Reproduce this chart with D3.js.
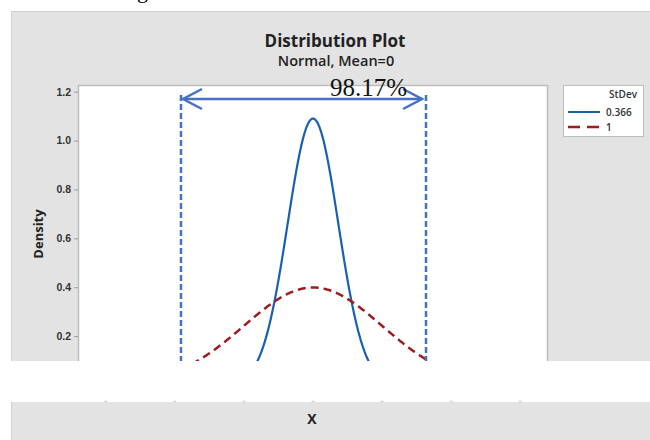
<!DOCTYPE html>
<html>
<head>
<meta charset="utf-8">
<script src="https://cdn.jsdelivr.net/npm/d3@7"></script>
<style>
  body { margin: 0; background: #fff; }
  svg { display: block; font-family: "Open Sans", "Noto Sans", sans-serif; }
</style>
</head>
<body>
<div id="chart"></div>
<script>
// Data
const mean = 0;
const stDevs = [0.366, 1];
const seriesColors = ["#1a5fb4", "#9e1b1f"];
const yTicks = [0.2, 0.4, 0.6, 0.8, 1.0, 1.2];
const xTicks = [-3, -2, -1, 0, 1, 2, 3];
const bounds = [-1.91, 1.635];
const areaLabel = "98.17%";

const width = 650;
const height = 440;
const plot = { left: 78, right: 548, top: 85, cut: 361 };

const svg = d3.select("#chart").append("svg")
    .attr("width", width)
    .attr("height", height);

// scales
const xScale = d3.scaleLinear().domain([-3.4, 3.4]).range([plot.left, plot.right]);
const yScale = d3.scaleLinear().domain([0, 1.2]).range([385, 91.7]);

// cut-off text from above
svg.append("text")
    .attr("x", 137).attr("y", -2)
    .style("font-family", "'Liberation Serif', serif")
    .style("font-size", "22px")
    .text("g");

// gray panels
svg.append("rect")
    .attr("x", 11).attr("y", 11)
    .attr("width", width - 11).attr("height", plot.cut - 11)
    .attr("fill", "#e3e3e3");
svg.append("line")
    .attr("x1", 11).attr("x2", width).attr("y1", 11.5).attr("y2", 11.5)
    .attr("stroke", "#d0d0d0");
svg.append("line")
    .attr("x1", 11.5).attr("x2", 11.5).attr("y1", 11).attr("y2", plot.cut)
    .attr("stroke", "#cfcfcf");

svg.append("rect")
    .attr("x", 11).attr("y", 402)
    .attr("width", width - 11).attr("height", height - 402)
    .attr("fill", "#e3e3e3");
svg.append("line")
    .attr("x1", 11.5).attr("x2", 11.5).attr("y1", 402).attr("y2", height)
    .attr("stroke", "#cfcfcf");

// plot area
svg.append("rect")
    .attr("x", plot.left).attr("y", plot.top)
    .attr("width", plot.right - plot.left).attr("height", plot.cut - plot.top)
    .attr("fill", "#fff");
svg.append("path")
    .attr("d", `M${plot.left + 0.5},${plot.cut}V${plot.top + 0.5}H${plot.right - 0.5}V${plot.cut}`)
    .attr("fill", "none")
    .attr("stroke", "#bdbdbd")
    .attr("stroke-width", 1.5);

svg.append("defs").append("clipPath").attr("id", "clip")
    .append("rect")
    .attr("x", plot.left).attr("y", plot.top - 20)
    .attr("width", plot.right - plot.left).attr("height", plot.cut - plot.top + 20);

// y axis
const yAxis = d3.axisLeft(yScale)
    .tickValues(yTicks)
    .tickFormat(d3.format(".1f"))
    .tickSize(4)
    .tickPadding(3);
const gy = svg.append("g")
    .attr("transform", `translate(${plot.left},0)`)
    .call(yAxis);
gy.select(".domain").remove();
gy.selectAll(".tick line").attr("stroke", "#9a9a9a");
gy.selectAll(".tick text")
    .attr("fill", "#333")
    .style("font-size", "10.5px")
    .style("font-weight", "600");

// x tick remnants on the lower strip
svg.append("g").selectAll("line")
    .data(xTicks)
    .enter()
    .append("line")
    .attr("x1", (d) => xScale(d)).attr("x2", (d) => xScale(d))
    .attr("y1", 400.5).attr("y2", 403)
    .attr("stroke", "#dcdcdc")
    .attr("stroke-width", 3);

// titles
svg.append("text")
    .attr("x", 335).attr("y", 47)
    .attr("text-anchor", "middle")
    .style("font-size", "17px")
    .style("font-weight", "bold")
    .attr("fill", "#222")
    .text("Distribution Plot");
svg.append("text")
    .attr("x", 336).attr("y", 66)
    .attr("text-anchor", "middle")
    .style("font-size", "14.5px")
    .style("font-weight", "600")
    .attr("fill", "#222")
    .text("Normal, Mean=" + mean);

svg.append("text")
    .attr("transform", "translate(43,234) rotate(-90)")
    .attr("text-anchor", "middle")
    .style("font-size", "13px")
    .style("font-weight", "bold")
    .attr("fill", "#222")
    .text("Density");

svg.append("text")
    .attr("x", 312).attr("y", 424)
    .attr("text-anchor", "middle")
    .style("font-size", "14px")
    .style("font-weight", "bold")
    .attr("fill", "#222")
    .text("X");

// density curves
const xs = d3.range(-3.4, 3.4001, 0.01);
const density = (x, sd) => Math.exp(-0.5 * ((x - mean) / sd) ** 2) / (sd * Math.sqrt(2 * Math.PI));
const line = d3.line().x((d) => xScale(d[0])).y((d) => yScale(d[1]));

const curves = svg.append("g").attr("clip-path", "url(#clip)");
stDevs.forEach((sd, i) => {
    curves.append("path")
        .datum(xs.map((x) => [x, density(x, sd)]))
        .attr("d", line)
        .attr("fill", "none")
        .attr("stroke", seriesColors[i])
        .attr("stroke-width", i === 0 ? 2.2 : 2.5)
        .attr("stroke-dasharray", i === 0 ? null : "8,5");
});

// annotation: bounds and arrow
const annColor = "#4472c4";
const ann = svg.append("g").attr("clip-path", "url(#clip)");
bounds.forEach((b) => {
    ann.append("line")
        .attr("x1", xScale(b)).attr("x2", xScale(b))
        .attr("y1", 95).attr("y2", plot.cut)
        .attr("stroke", annColor)
        .attr("stroke-width", 2.5)
        .attr("stroke-dasharray", "6,3");
});
const ay = 99;
const ax0 = xScale(bounds[0]) + 2;
const ax1 = xScale(bounds[1]) - 4;
svg.append("line")
    .attr("x1", ax0).attr("x2", ax1).attr("y1", ay).attr("y2", ay)
    .attr("stroke", annColor).attr("stroke-width", 2.5);
svg.append("path")
    .attr("d", `M${ax0 + 19},${ay - 10}L${ax0},${ay}L${ax0 + 19},${ay + 10}`)
    .attr("fill", "none").attr("stroke", annColor).attr("stroke-width", 2.5);
svg.append("path")
    .attr("d", `M${ax1 - 19},${ay - 10}L${ax1},${ay}L${ax1 - 19},${ay + 10}`)
    .attr("fill", "none").attr("stroke", annColor).attr("stroke-width", 2.5);

svg.append("text")
    .attr("x", xScale(bounds[1]) - 19).attr("y", 96)
    .attr("text-anchor", "end")
    .style("font-family", "'Liberation Serif', 'Times New Roman', serif")
    .style("font-size", "25px")
    .attr("fill", "#111")
    .text(areaLabel);

// legend
const legend = svg.append("g");
legend.append("rect")
    .attr("x", 563.5).attr("y", 85.5)
    .attr("width", 80).attr("height", 51)
    .attr("fill", "#fff")
    .attr("stroke", "#bdbdbd");
legend.append("text")
    .attr("x", 637).attr("y", 98)
    .attr("text-anchor", "end")
    .style("font-size", "10px")
    .style("font-weight", "600")
    .attr("fill", "#333")
    .text("StDev");
stDevs.forEach((sd, i) => {
    const ly = 112 + i * 15;
    legend.append("line")
        .attr("x1", 568).attr("x2", 600).attr("y1", ly).attr("y2", ly)
        .attr("stroke", seriesColors[i])
        .attr("stroke-width", i === 0 ? 2 : 2.5)
        .attr("stroke-dasharray", i === 0 ? null : "12,7");
    legend.append("text")
        .attr("x", 606).attr("y", ly + 4)
        .style("font-size", "10px")
        .style("font-weight", "600")
        .attr("fill", "#333")
        .text(sd);
});
</script>
</body>
</html>
